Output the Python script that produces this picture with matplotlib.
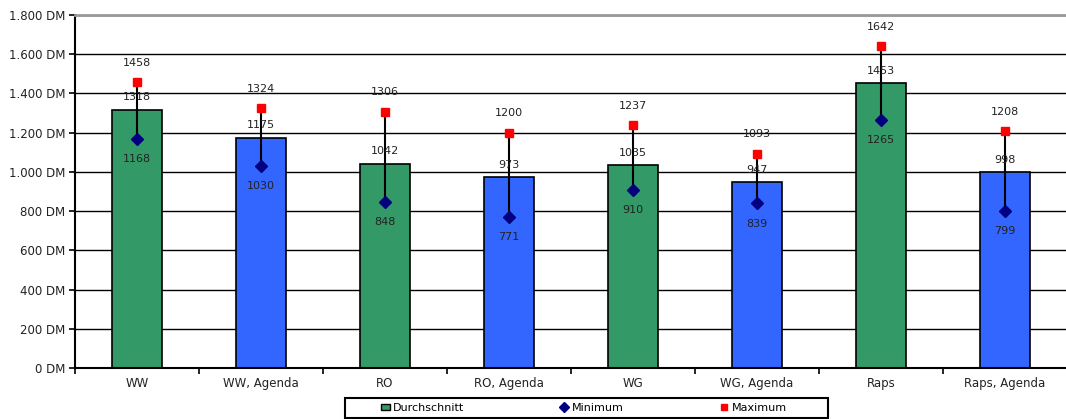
import matplotlib
matplotlib.use('Agg')
import matplotlib.pyplot as plt
from matplotlib.ticker import FuncFormatter
from matplotlib.lines import Line2D
from matplotlib.patches import Patch, Rectangle

plt.rcParams['font.family'] = ['DejaVu Sans']

categories = ['WW', 'WW, Agenda', 'RO', 'RO, Agenda', 'WG', 'WG, Agenda', 'Raps', 'Raps, Agenda']
durchschnitt = [1318, 1175, 1042, 973, 1035, 947, 1453, 998]
minimum = [1168, 1030, 848, 771, 910, 839, 1265, 799]
maximum = [1458, 1324, 1306, 1200, 1237, 1093, 1642, 1208]

green = '#339966'
blue = '#3366FF'
navy = '#000080'
bar_colors = [green if i % 2 == 0 else blue for i in range(len(categories))]
text_col = '#222222'


def dm(v, pos):
    return f"{int(v):,} DM".replace(',', '.')


def main():
    W, H = 1066, 419
    fig = plt.figure(figsize=(W / 100, H / 100), dpi=100)
    # plot area runs a little past the right edge
    ax = fig.add_axes([75 / W, 1 - 368 / H, 992 / W, 353 / H])

    x = list(range(len(categories)))
    ax.bar(x, durchschnitt, width=0.41, color=bar_colors, edgecolor='black', linewidth=1.2, zorder=2)
    ax.vlines(x, minimum, maximum, color='black', linewidth=1.5, zorder=3)
    ax.plot(x, minimum, linestyle='none', marker='D', color=navy, markersize=6.5, zorder=4)
    ax.plot(x, maximum, linestyle='none', marker='s', color='red', markersize=5.5, zorder=4)

    for i in x:
        ax.annotate(str(maximum[i]), (i, maximum[i]), xytext=(0, 14), textcoords='offset points',
                    ha='center', va='center', fontsize=8, color=text_col, zorder=5)
        ax.annotate(str(durchschnitt[i]), (i, durchschnitt[i]), xytext=(0, 9), textcoords='offset points',
                    ha='center', va='center', fontsize=8, color=text_col, zorder=5)
        ax.annotate(str(minimum[i]), (i, minimum[i]), xytext=(0, -14.5), textcoords='offset points',
                    ha='center', va='center', fontsize=8, color=text_col, zorder=5)

    ax.set_ylim(0, 1800)
    ax.set_xlim(-0.5, len(categories) - 0.5)
    ax.set_yticks(range(0, 1801, 200))
    ax.yaxis.set_major_formatter(FuncFormatter(dm))
    ax.yaxis.grid(True, color='black', linewidth=1.0, zorder=0)
    ax.set_axisbelow(True)
    ax.set_xticks(x)
    ax.set_xticklabels(categories)
    ax.set_xticks([i - 0.5 for i in range(len(categories) + 1)], minor=True)
    ax.tick_params(axis='x', which='major', length=0, labelsize=8.5, pad=6.5, labelcolor=text_col)
    ax.tick_params(axis='x', which='minor', length=4, width=1.2)
    ax.tick_params(axis='y', length=4, width=1.2, labelsize=8.5, pad=3, labelcolor=text_col)

    ax.spines['right'].set_visible(False)
    ax.spines['top'].set_color('#999999')
    ax.spines['top'].set_linewidth(2)
    ax.spines['left'].set_linewidth(1.5)
    ax.spines['bottom'].set_linewidth(1.5)

    # legend box at the bottom
    fig.patches.append(Rectangle((345 / W, 1 - 418 / H), 483 / W, 20 / H, transform=fig.transFigure,
                                 facecolor='white', edgecolor='black', linewidth=1.5))
    handles = [
        Patch(facecolor=green, edgecolor='black', label='Durchschnitt'),
        Line2D([], [], linestyle='none', marker='D', color=navy, markersize=5.5, label='Minimum'),
        Line2D([], [], linestyle='none', marker='s', color='red', markersize=5, label='Maximum'),
    ]
    fig.legend(handles=handles, loc='center', bbox_to_anchor=(584 / W, 1 - 408 / H),
               ncol=3, fontsize=8, frameon=False, columnspacing=8.6,
               handlelength=0.8, handleheight=0.5, handletextpad=0.3, borderpad=0.2)

    plt.savefig('out.png', dpi=100)
    plt.close()


if __name__ == '__main__':
    main()
